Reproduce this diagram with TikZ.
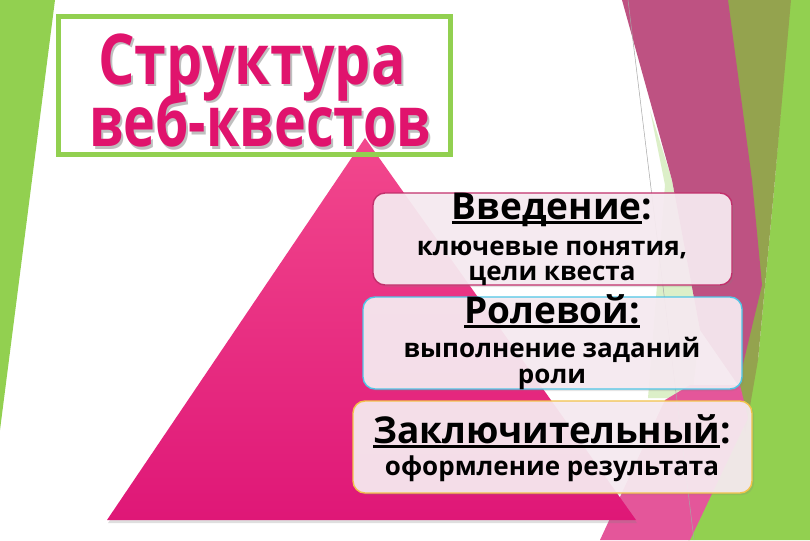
\documentclass[tikz,border=0pt]{standalone}
\usepackage{fontspec}
\setmainfont{Open Sans}
\usetikzlibrary{shadows}
\definecolor{leafgreen}{HTML}{92D050}
\definecolor{olivestrip}{HTML}{94A34E}
\definecolor{mauve}{HTML}{BE5282}
\definecolor{lightrose}{HTML}{E4569A}
\definecolor{palegreen}{HTML}{DCEFC8}
\definecolor{pyrtop}{HTML}{F2488D}
\definecolor{pyrbottom}{HTML}{DF1777}
\definecolor{titlepink}{HTML}{E0136D}
\definecolor{boxfill}{HTML}{F7EBF1}
\definecolor{introline}{HTML}{C2306C}
\definecolor{roleline}{HTML}{4FC6E6}
\definecolor{finalline}{HTML}{F2C24A}
\newcommand\ulword[1]{\setbox0\hbox{#1}\rlap{\rule[-5pt]{\wd0}{2.6pt}}\box0}
\newcommand\shadowword[2]{\rlap{\kern2pt\raisebox{-2pt}{\color{gray!50}\scalebox{#1}[1]{#2}}}\scalebox{#1}[1]{#2}}
\begin{document}
\begin{tikzpicture}[x=1pt,y=-1pt,
  stage/.style={rounded corners=12pt,fill=boxfill,fill opacity=0.93,
    line width=1.4pt,minimum height=92pt,inner sep=0pt,
    drop shadow={opacity=0.2,shadow xshift=2pt,shadow yshift=-2pt}},
  head/.style={font=\bfseries\fontsize{37}{37}\selectfont,anchor=base,inner sep=0pt},
  sub/.style={font=\bfseries\fontsize{26}{26}\selectfont,anchor=base,inner sep=0pt},
  title/.style={font=\bfseries\fontsize{70}{70}\selectfont,anchor=base,inner sep=0pt,text=titlepink}]
  \useasboundingbox (0,0) rectangle (810,540);
  \fill[white] (0,0) rectangle (810,540);

  % background facets
  \fill[leafgreen] (0,0) -- (55,0) -- (0,430) -- cycle;
  \fill[leafgreen] (790,0) -- (810,0) -- (810,540) -- (688,540) -- (758,360) -- (774,190) -- cycle;
  \fill[olivestrip] (727,0) -- (791,0) -- (774,190) -- (758,360) -- (745,435) -- (730,300) -- cycle;
  \fill[palegreen] (650,110) -- (672,180) -- (700,330) -- (692,398) -- (648,398) -- (665,185) -- cycle;
  \fill[mauve] (622,0) -- (728,0) -- (752,180) -- (762,285) -- (738,385) -- (700,330) -- (672,180) -- cycle;
  \fill[lightrose] (600,540) -- (690,540) -- (748,418) -- (740,385) -- (690,385) -- (665,400) -- cycle;
  \draw[gray!70,line width=0.5pt] (628,0) -- (694,540);

  % pyramid
  \shade[top color=pyrtop,bottom color=pyrbottom,
    drop shadow={opacity=0.25,shadow xshift=1pt,shadow yshift=-3pt}]
    (365,138) -- (636,520) -- (107,520) -- cycle;

  % title
  \draw[leafgreen,line width=5pt] (58,17) rectangle (450,155);
  \node[title] (t1) at (252,85) {\shadowword{0.82}{Структура}};
  \node[title] (t2) at (260,147) {\shadowword{0.77}{веб-квестов}};

  % stages
  \node[stage,draw=introline,minimum width=359pt] (intro) at (552.5,239) {};
  \node[stage,draw=roleline,minimum width=379pt] (role) at (552.5,343) {};
  \node[stage,draw=finalline,minimum width=399pt] (final) at (552.5,447) {};

  \node[head] (introh) at (552,219) {\ulword{Введение}:};
  \node[sub] (intro1) at (552,255) {ключевые понятия,};
  \node[sub] (intro2) at (552,280) {цели квеста};

  \node[head] (roleh) at (552,323) {\ulword{Ролевой:}};
  \node[sub] (role1) at (552,357) {выполнение заданий};
  \node[sub] (role2) at (552,383) {роли};

  \node[head] (finalh) at (552,443) {\ulword{Заключительный}:};
  \node[sub] (final1) at (552,475) {оформление результата};
\end{tikzpicture}
\end{document}
